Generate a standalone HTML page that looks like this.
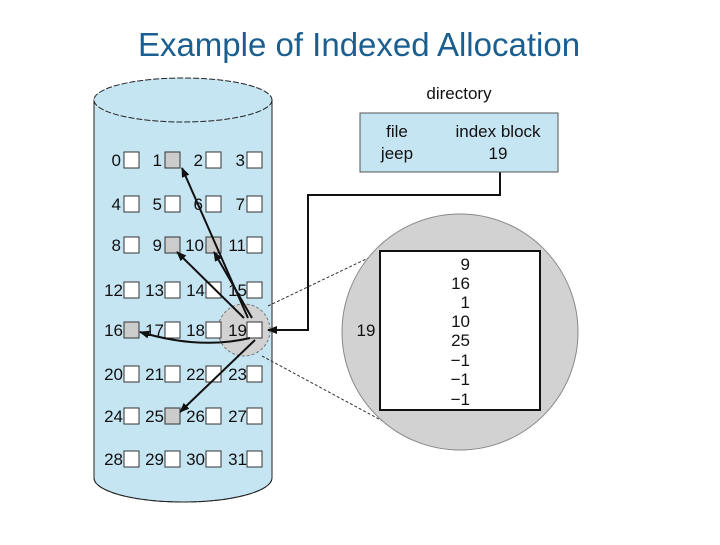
<!DOCTYPE html>
<html><head><meta charset="utf-8"><style>
body{margin:0;background:#fff;width:720px;height:540px;overflow:hidden}
svg text{font-family:"Liberation Sans",sans-serif}
</style></head><body>
<svg width="720" height="540" viewBox="0 0 720 540">
<text x="359" y="56" text-anchor="middle" font-size="33" fill="#1a5f8f">Example of Indexed Allocation</text>
<defs><marker id="a" markerWidth="10" markerHeight="8" refX="9" refY="4" orient="auto" markerUnits="userSpaceOnUse"><path d="M0,0L10,4L0,8z" fill="#111"/></marker></defs>
<path d="M94,100 L94,478 A89,24 0 0 0 272,478 L272,100 Z" fill="#c6e5f3" stroke="#222" stroke-width="1"/>
<ellipse cx="183" cy="100" rx="89" ry="22" fill="#c6e5f3" stroke="#222" stroke-dasharray="6,2"/>
<path d="M94,478 A89,24 0 0 0 272,478" fill="none" stroke="#222" stroke-dasharray="6,2"/>
<circle cx="244" cy="330" r="26" fill="#d2d2d2" stroke="#777" stroke-dasharray="3,2"/>
<g font-size="17" fill="#111" text-anchor="end">
<text x="121" y="166">0</text><text x="162" y="166">1</text><text x="203" y="166">2</text><text x="245" y="166">3</text>
<text x="121" y="210">4</text><text x="162" y="210">5</text><text x="203" y="210">6</text><text x="245" y="210">7</text>
<text x="121" y="251">8</text><text x="162" y="251">9</text><text x="204" y="251">10</text><text x="246" y="251">11</text>
<text x="123" y="296">12</text><text x="164" y="296">13</text><text x="205" y="296">14</text><text x="247" y="296">15</text>
<text x="123" y="336">16</text><text x="164" y="336">17</text><text x="205" y="336">18</text><text x="247" y="336">19</text>
<text x="123" y="380">20</text><text x="164" y="380">21</text><text x="205" y="380">22</text><text x="247" y="380">23</text>
<text x="123" y="422">24</text><text x="164" y="422">25</text><text x="205" y="422">26</text><text x="247" y="422">27</text>
<text x="123" y="465">28</text><text x="164" y="465">29</text><text x="205" y="465">30</text><text x="247" y="465">31</text>
</g>
<g stroke="#333" stroke-width="1">
<rect x="124" y="152" width="15" height="16" fill="#fff"/><rect x="165" y="152" width="15" height="16" fill="#ccc"/><rect x="206" y="152" width="15" height="16" fill="#fff"/><rect x="247" y="152" width="15" height="16" fill="#fff"/>
<rect x="124" y="196" width="15" height="16" fill="#fff"/><rect x="165" y="196" width="15" height="16" fill="#fff"/><rect x="206" y="196" width="15" height="16" fill="#fff"/><rect x="247" y="196" width="15" height="16" fill="#fff"/>
<rect x="124" y="237" width="15" height="16" fill="#fff"/><rect x="165" y="237" width="15" height="16" fill="#ccc"/><rect x="206" y="237" width="15" height="16" fill="#ccc"/><rect x="247" y="237" width="15" height="16" fill="#fff"/>
<rect x="124" y="282" width="15" height="16" fill="#fff"/><rect x="165" y="282" width="15" height="16" fill="#fff"/><rect x="206" y="282" width="15" height="16" fill="#fff"/><rect x="247" y="282" width="15" height="16" fill="#fff"/>
<rect x="124" y="322" width="15" height="16" fill="#ccc"/><rect x="165" y="322" width="15" height="16" fill="#fff"/><rect x="206" y="322" width="15" height="16" fill="#fff"/><rect x="247" y="322" width="15" height="16" fill="#fff"/>
<rect x="124" y="366" width="15" height="16" fill="#fff"/><rect x="165" y="366" width="15" height="16" fill="#fff"/><rect x="206" y="366" width="15" height="16" fill="#fff"/><rect x="247" y="366" width="15" height="16" fill="#fff"/>
<rect x="124" y="408" width="15" height="16" fill="#fff"/><rect x="165" y="408" width="15" height="16" fill="#ccc"/><rect x="206" y="408" width="15" height="16" fill="#fff"/><rect x="247" y="408" width="15" height="16" fill="#fff"/>
<rect x="124" y="451" width="15" height="16" fill="#fff"/><rect x="165" y="451" width="15" height="16" fill="#fff"/><rect x="206" y="451" width="15" height="16" fill="#fff"/><rect x="247" y="451" width="15" height="16" fill="#fff"/>
</g>
<g stroke="#111" stroke-width="2" fill="none" marker-end="url(#a)">
<line x1="248" y1="318" x2="182" y2="168"/>
<line x1="244" y1="318" x2="177" y2="252"/>
<line x1="252" y1="318" x2="214" y2="252"/>
<path d="M250,338 Q200,350 140,332"/>
<line x1="255" y1="340" x2="180" y2="412"/>
<path d="M500,172 L500,195 L308,195 L308,330 L268,330"/>
</g>
<text x="459" y="99" font-size="17" text-anchor="middle" fill="#111">directory</text>
<rect x="360" y="113" width="198" height="59" fill="#c6e5f3" stroke="#555"/>
<g font-size="17" fill="#111" text-anchor="middle"><text x="397" y="137">file</text><text x="397" y="159">jeep</text><text x="498" y="137">index block</text><text x="498" y="159">19</text></g>
<line x1="268" y1="306" x2="385" y2="250" stroke="#333" stroke-dasharray="3,2"/>
<line x1="262" y1="356" x2="390" y2="425" stroke="#333" stroke-dasharray="3,2"/>
<circle cx="460" cy="332" r="118" fill="#d2d2d2" stroke="#888"/>
<rect x="380" y="251" width="160" height="159" fill="#fff" stroke="#111" stroke-width="2"/>
<text x="366" y="336" font-size="17" text-anchor="middle" fill="#111">19</text>
<g font-size="17" fill="#111" text-anchor="end"><text x="470" y="270">9</text><text x="470" y="289">16</text><text x="470" y="308">1</text><text x="470" y="327">10</text><text x="470" y="346">25</text><text x="470" y="366">−1</text><text x="470" y="385">−1</text><text x="470" y="405">−1</text></g>
</svg>
</body></html>
